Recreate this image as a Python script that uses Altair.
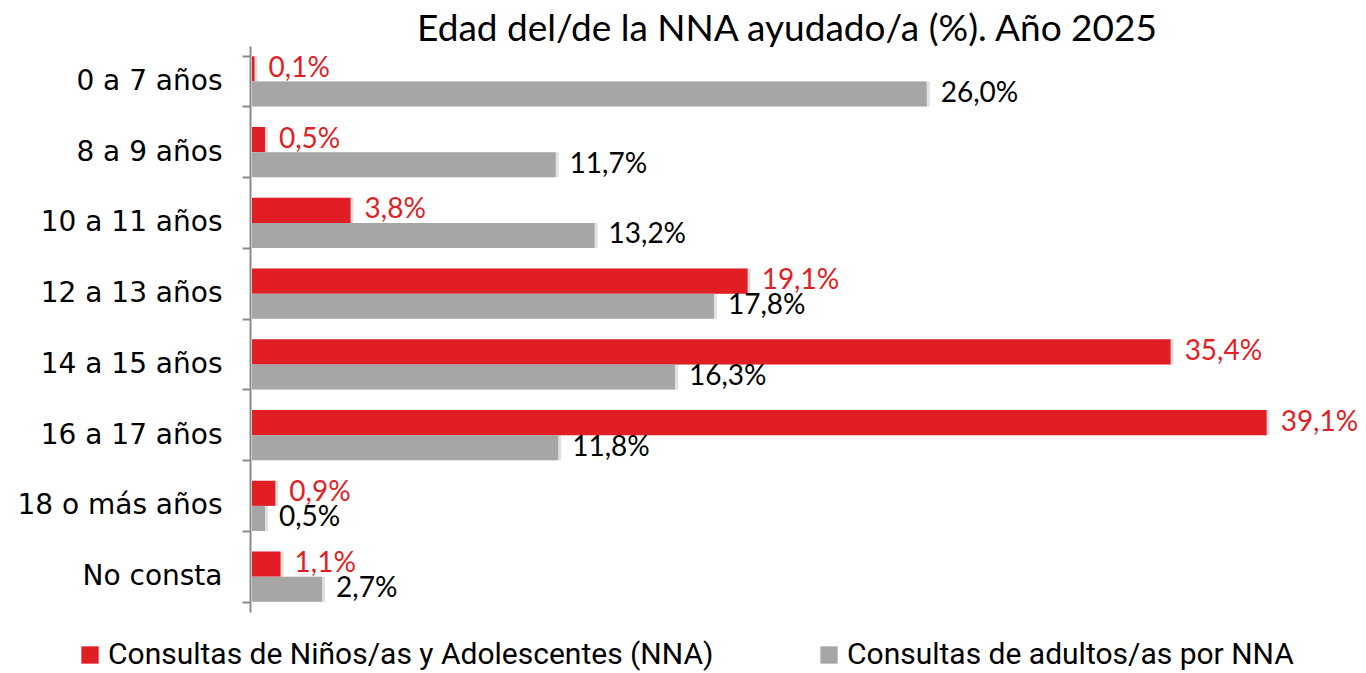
import altair as alt
import pandas as pd

categorias = ["0 a 7 años", "8 a 9 años", "10 a 11 años", "12 a 13 años",
              "14 a 15 años", "16 a 17 años", "18 o más años", "No consta"]
series = ["Consultas de Niños/as y Adolescentes (NNA)", "Consultas de adultos/as por NNA"]
nna = [0.1, 0.5, 3.8, 19.1, 35.4, 39.1, 0.9, 1.1]
adultos = [26.0, 11.7, 13.2, 17.8, 16.3, 11.8, 0.5, 2.7]


def fmt(v):
    return f"{v:.1f}".replace(".", ",") + "%"


rows = []
for i, c in enumerate(categorias):
    rows.append(dict(cat=c, serie=series[0], value=nna[i], label=fmt(nna[i])))
    rows.append(dict(cat=c, serie=series[1], value=adultos[i], label=fmt(adultos[i])))
df = pd.DataFrame(rows)

RED = "#E21E25"
GRAY = "#A6A6A6"

y = alt.Y("cat:N", sort=categorias, title=None,
          scale=alt.Scale(paddingInner=0.29, paddingOuter=0.145),
          axis=alt.Axis(tickBand="extent", labelFont="DejaVu Sans", labelFontSize=28,
                        labelColor="#000000", labelPadding=20, tickSize=8,
                        tickColor="#8c8c8c", domainColor="#8c8c8c", domainWidth=2,
                        tickWidth=2, grid=False, offset=2, labelLimit=300))
x = alt.X("value:Q", scale=alt.Scale(domain=[0, 40]), axis=None)
yoff = alt.YOffset("serie:N", sort=series, scale=alt.Scale(paddingInner=0, paddingOuter=0))

base = alt.Chart(df)

shadow = base.mark_bar(color="#000000", opacity=0.12, xOffset=3, yOffset=3).encode(
    x=x, y=y, yOffset=yoff)

bars = base.mark_bar().encode(
    x=x, y=y, yOffset=yoff,
    color=alt.Color("serie:N", sort=series,
                    scale=alt.Scale(domain=series, range=[RED, GRAY]),
                    legend=alt.Legend(title=None, orient="none", legendX=-177, legendY=594,
                                      direction="horizontal", symbolType="square",
                                      symbolSize=300, symbolStrokeWidth=0,
                                      labelFont="Liberation Sans Narrow, Roboto", labelFontSize=30,
                                      labelColor="#000000", labelLimit=800,
                                      columnPadding=100, labelOffset=3)))

text = base.mark_text(align="left", baseline="middle", dx=14, font="Lato", fontSize=28).encode(
    x=x, y=y, yOffset=yoff, text="label:N",
    color=alt.Color("serie:N", sort=series,
                    scale=alt.Scale(domain=series, range=[RED, "#000000"]), legend=None))

chart = alt.layer(shadow, bars, text).resolve_scale(color="independent").properties(
    width=1038, height=566,
    autosize=alt.AutoSizeParams(type="none"),
    padding={"left": 244, "top": 38, "right": 68, "bottom": 61},
    title=alt.TitleParams("Edad del/de la NNA ayudado/a (%). Año 2025", font="Lato",
                          fontSize=37, fontWeight="normal", color="#000000",
                          anchor="middle", dx=16, dy=3, offset=-14),
).configure_view(stroke=None)

chart.save("out.html", embed_options={"renderer": "svg", "actions": False})
